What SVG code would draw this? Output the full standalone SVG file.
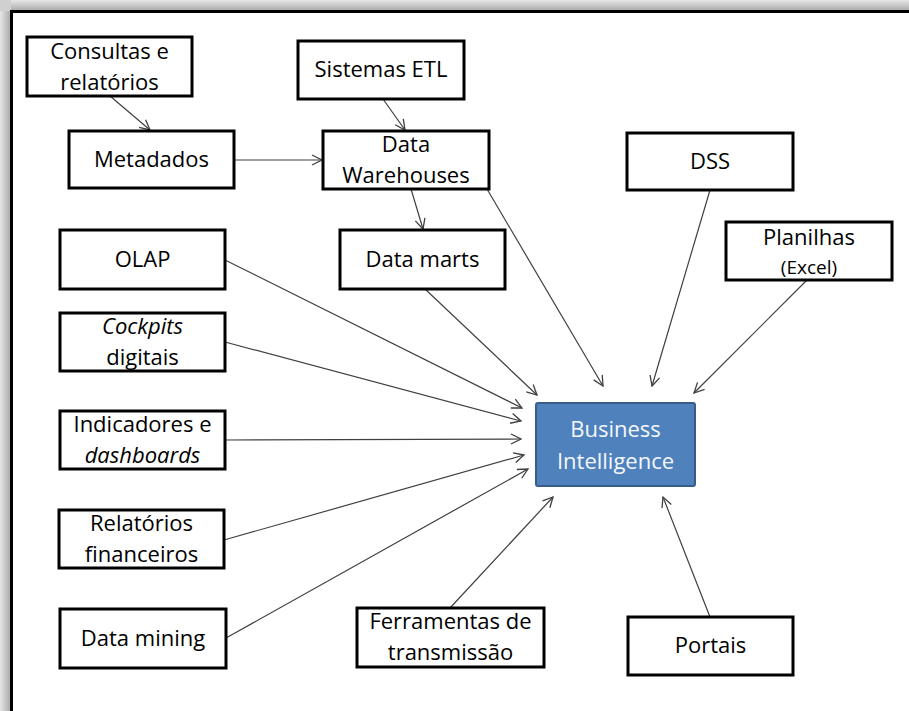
<svg xmlns="http://www.w3.org/2000/svg" width="909" height="711" viewBox="0 0 909 711">
  <defs>
    <linearGradient id="shadeTop" x1="0" y1="0" x2="0" y2="1">
      <stop offset="0" stop-color="#e6e6e6"/>
      <stop offset="1" stop-color="#a8a8a8"/>
    </linearGradient>
    <linearGradient id="shadeLeft" x1="0" y1="0" x2="1" y2="0">
      <stop offset="0" stop-color="#e6e6e6"/>
      <stop offset="1" stop-color="#a8a8a8"/>
    </linearGradient>
    <marker id="arrow" viewBox="0 0 12 12" refX="11" refY="6" markerWidth="12" markerHeight="12" markerUnits="userSpaceOnUse" orient="auto">
      <path d="M1,1 L11,6 L1,11" fill="none" stroke="#404040" stroke-width="1.3"/>
    </marker>
    <style>
      .box { fill: #ffffff; stroke: #000000; stroke-width: 3; }
      .lbl { font-family: "Open Sans", "Liberation Sans", sans-serif; font-size: 22px; fill: #000000; text-anchor: middle; }
      .lbl.small { font-size: 19px; }
      .it { font-style: italic; }
      .bi { fill: #4f81bd; stroke: #385d8a; stroke-width: 2; }
      .bitext { fill: #f4f7fc; }
      .conn line { stroke: #404040; stroke-width: 1.2; marker-end: url(#arrow); }
    </style>
  </defs>

  <!-- page background and framed sheet -->
  <rect x="0" y="0" width="909" height="711" fill="#ffffff"/>
  <rect x="0" y="0" width="909" height="11" fill="url(#shadeTop)"/>
  <rect x="0" y="0" width="11" height="711" fill="url(#shadeLeft)"/>
  <rect x="0" y="0" width="11" height="11" fill="#d0d0d0"/>
  <path d="M11.5,711 V11.5 H909" fill="none" stroke="#000000" stroke-width="3"/>

  <!-- connectors -->
  <g id="connectors" class="conn">
    <line x1="110" y1="96" x2="150" y2="130"/>
    <line x1="383" y1="99" x2="405" y2="130"/>
    <line x1="234" y1="160" x2="322" y2="160"/>
    <line x1="411" y1="189" x2="423" y2="229"/>
    <line x1="487" y1="189" x2="603" y2="386"/>
    <line x1="710" y1="190" x2="652" y2="386"/>
    <line x1="807" y1="280" x2="694" y2="393"/>
    <line x1="425" y1="289" x2="537" y2="395"/>
    <line x1="225" y1="260" x2="522" y2="408"/>
    <line x1="225" y1="342" x2="521" y2="421"/>
    <line x1="225" y1="440" x2="521" y2="439"/>
    <line x1="224" y1="540" x2="524" y2="455"/>
    <line x1="226" y1="638" x2="528" y2="469"/>
    <line x1="450" y1="608" x2="553" y2="497"/>
    <line x1="710" y1="617" x2="663" y2="497"/>
  </g>

  <g id="consultas">
    <rect class="box" x="27" y="37" width="165" height="59"/>
    <text class="lbl" x="109.5" y="59">Consultas e</text>
    <text class="lbl" x="109.5" y="90">relatórios</text>
  </g>
  <g id="metadados">
    <rect class="box" x="69" y="131" width="165" height="57"/>
    <text class="lbl" x="151.5" y="167">Metadados</text>
  </g>
  <g id="sistemas-etl">
    <rect class="box" x="298" y="41" width="166" height="58"/>
    <text class="lbl" x="381" y="77">Sistemas ETL</text>
  </g>
  <g id="data-warehouses">
    <rect class="box" x="323" y="131" width="166" height="58"/>
    <text class="lbl" x="406" y="152">Data</text>
    <text class="lbl" x="406" y="183">Warehouses</text>
  </g>
  <g id="dss">
    <rect class="box" x="627" y="133" width="166" height="57"/>
    <text class="lbl" x="710" y="169">DSS</text>
  </g>
  <g id="planilhas">
    <rect class="box" x="726" y="222" width="166" height="58"/>
    <text class="lbl" x="809" y="245">Planilhas</text>
    <text class="lbl small" x="809" y="274">(Excel)</text>
  </g>
  <g id="olap">
    <rect class="box" x="60" y="230" width="165" height="59"/>
    <text class="lbl" x="142.5" y="267">OLAP</text>
  </g>
  <g id="data-marts">
    <rect class="box" x="340" y="230" width="165" height="59"/>
    <text class="lbl" x="422.5" y="267">Data marts</text>
  </g>
  <g id="cockpits">
    <rect class="box" x="60" y="313" width="165" height="58"/>
    <text class="lbl it" x="142.5" y="334">Cockpits</text>
    <text class="lbl" x="142.5" y="365">digitais</text>
  </g>
  <g id="indicadores">
    <rect class="box" x="60" y="411" width="165" height="58"/>
    <text class="lbl" x="142.5" y="432">Indicadores e</text>
    <text class="lbl it" x="142.5" y="463">dashboards</text>
  </g>
  <g id="relatorios-financeiros">
    <rect class="box" x="59" y="510" width="165" height="58"/>
    <text class="lbl" x="141.5" y="531">Relatórios</text>
    <text class="lbl" x="141.5" y="562">financeiros</text>
  </g>
  <g id="data-mining">
    <rect class="box" x="60" y="609" width="166" height="59"/>
    <text class="lbl" x="143" y="646">Data mining</text>
  </g>
  <g id="ferramentas">
    <rect class="box" x="357" y="608" width="187" height="59"/>
    <text class="lbl" x="450.5" y="629">Ferramentas de</text>
    <text class="lbl" x="450.5" y="660">transmissão</text>
  </g>
  <g id="portais">
    <rect class="box" x="628" y="617" width="165" height="58"/>
    <text class="lbl" x="710.5" y="653">Portais</text>
  </g>
  <g id="business-intelligence">
    <rect class="bi" x="536" y="403" width="159" height="83" rx="2"/>
    <text class="lbl bitext" x="615.5" y="437">Business</text>
    <text class="lbl bitext" x="615.5" y="469">Intelligence</text>
  </g>
</svg>
